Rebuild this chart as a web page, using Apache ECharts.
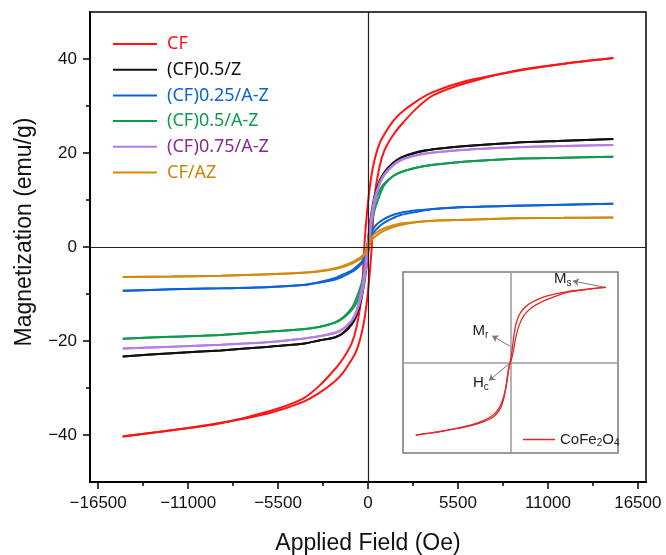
<!DOCTYPE html>
<html><head><meta charset="utf-8">
<script src="https://cdn.jsdelivr.net/npm/echarts@6/dist/echarts.min.js"></script>
<style>html,body{margin:0;padding:0;background:#fff}#c{width:666px;height:555px}</style>
</head><body><div id="c"></div>
<script>
// ---- main chart data (Applied field in Oe, magnetization in emu/g) ----
const fieldDesc = [15000,12000,9000,6000,4000,3000,2000,1500,1000,700,400,200,0,-200,-400,-700,-1000,-1500,-2000,-3000,-4000,-6000,-9000,-12000,-15000];
const fieldAsc  = [-15000,-12000,-9000,-6000,-4000,-3000,-2000,-1500,-1000,-700,-400,-200,0,200,400,700,1000,1500,2000,3000,4000,6000,9000,12000,15000];

const cfDesc  = [40.2,39.0,37.4,35.3,33.0,31.1,28.5,26.6,24.0,22.0,18.5,15.0,9.5,1.5,-10.5,-17.0,-20.5,-23.6,-25.9,-29.6,-32.3,-34.9,-37.5,-39.0,-40.3];
const cfAsc   = [-40.3,-39.0,-37.4,-35.3,-33.0,-31.1,-28.5,-26.6,-24.0,-22.0,-18.5,-15.0,-9.5,-1.5,10.5,17.0,20.5,23.6,25.9,29.6,32.3,34.9,37.5,39.0,40.2];
const zDesc   = [23.0,22.6,22.2,21.5,20.8,20.2,19.0,17.8,15.9,14.0,10.8,7.0,1.5,-5.0,-9.6,-14.0,-16.3,-18.2,-19.2,-19.9,-20.6,-21.2,-22.0,-22.6,-23.3];
const zAsc    = [-23.3,-22.6,-22.0,-21.2,-20.6,-19.9,-19.2,-18.3,-16.5,-14.6,-11.0,-7.0,-1.5,5.0,9.6,13.8,15.6,17.6,18.9,20.1,20.8,21.5,22.2,22.6,23.0];
const b25Desc = [9.2,9.0,8.8,8.5,8.1,7.8,7.3,6.8,6.0,5.3,4.3,3.0,0.8,-1.8,-3.2,-4.2,-5.0,-5.8,-6.6,-7.5,-8.1,-8.5,-8.8,-9.0,-9.3];
const b25Asc  = [-9.3,-9.0,-8.8,-8.5,-8.1,-7.6,-6.9,-6.2,-5.3,-4.6,-3.6,-2.4,-0.6,1.8,3.3,4.4,5.2,6.1,6.8,7.5,8.1,8.5,8.8,9.0,9.2];
const g5Desc  = [19.2,19.0,18.8,18.2,17.5,16.9,15.9,15.0,13.5,12.0,9.3,5.8,1.0,-4.4,-7.8,-10.8,-13.0,-14.9,-16.0,-17.0,-17.5,-18.0,-18.7,-19.1,-19.5];
const g5Asc   = [-19.5,-19.1,-18.7,-18.0,-17.5,-17.0,-16.1,-15.1,-13.4,-11.9,-9.0,-5.6,-1.0,4.4,7.8,10.9,13.2,15.0,15.9,16.9,17.5,18.2,18.8,19.0,19.2];
const p75Desc = [21.7,21.5,21.2,20.7,20.1,19.6,18.6,17.4,15.5,13.6,10.4,6.6,1.2,-4.8,-9.2,-13.4,-15.6,-17.3,-18.2,-19.0,-19.5,-20.2,-20.8,-21.2,-21.6];
const p75Asc  = [-21.6,-21.2,-20.8,-20.2,-19.5,-19.0,-18.3,-17.5,-15.8,-13.9,-10.6,-6.8,-1.2,4.8,9.2,13.2,15.3,17.2,18.4,19.5,20.1,20.7,21.2,21.5,21.7];
const azDesc  = [6.3,6.2,6.1,5.8,5.6,5.3,5.0,4.6,4.0,3.5,2.8,1.9,0.4,-1.2,-2.0,-2.7,-3.3,-4.0,-4.5,-5.1,-5.5,-5.8,-6.1,-6.3,-6.4];
const azAsc   = [-6.4,-6.3,-6.1,-5.8,-5.5,-5.2,-4.7,-4.2,-3.6,-3.0,-2.4,-1.6,-0.3,1.3,2.1,2.9,3.5,4.2,4.7,5.3,5.6,5.8,6.1,6.2,6.3];

const seriesNames = ['CF','(CF)0.5/Z','(CF)0.25/A-Z','(CF)0.5/A-Z','(CF)0.75/A-Z','CF/AZ'];
const xTickLabels = [-16500,-11000,-5500,0,5500,11000,16500];
const xMinorTicks = [-13750,-8250,-2750,2750,8250,13750];
const yTickLabels = [-40,-20,0,20,40];
const yMinorTicks = [-30,-10,10,30];

// ---- inset (schematic CoFe2O4 loop, arbitrary units) ----
const insetHDesc = [88.7,70,52,35,25,17,11,7.5,5,3.2,1.8,0.5,-1,-2.5,-4.5,-7.5,-12,-19,-30,-45,-60,-75,-88.1];
const insetMDesc = [82.9,80.8,78.1,73.8,69.5,64.5,58,51,42,30,17,6,-3,-15,-29,-42,-53,-60.5,-66.5,-71.5,-75,-78,-80.2];
const insetHAsc  = [-88.1,-75,-60,-45,-30,-20,-14,-9.5,-6.5,-4.5,-3,-1.5,1,3,5,8,12.5,19,28,38,52,70,88.7];
const insetMAsc  = [-80.2,-78,-75.2,-72,-67.5,-63,-58,-51,-41,-29,-16,-5,4,15,28,41,52,60,66.5,71.5,77.3,80.6,82.9];

const lineColors = ['#ff1414','#111111','#0e62d6','#0f9a50','#b47ce6','#d38a0c'];
const textColors = ['#ff1414','#111111','#0e62d6','#0f9a50','#8a2b8f','#c8860c'];

const pairs = [[cfDesc,cfAsc],[zDesc,zAsc],[b25Desc,b25Asc],[g5Desc,g5Asc],[p75Desc,p75Asc],[azDesc,azAsc]];
const zip = (xs, ys) => xs.map((x, i) => [x, ys[i]]);
const fmt = v => v < 0 ? '\u2212' + Math.abs(v) : String(v);
const FONT = 'Liberation Sans';

const series = [];
pairs.forEach((p, i) => {
  [zip(fieldDesc, p[0]), zip(fieldAsc, p[1])].forEach((d, j) => {
    const s = {
      name: seriesNames[i], type: 'line', xAxisIndex: 0, yAxisIndex: 0,
      data: d, symbol: 'none', showSymbol: false, smooth: 0.3,
      lineStyle: {color: lineColors[i], width: 2}, itemStyle: {color: lineColors[i]},
      z: 3
    };
    if (i === 0 && j === 0) {
      s.markLine = {silent: true, symbol: ['none','none'], label: {show: false},
        lineStyle: {color: '#222', width: 1.2, type: 'solid'}, animation: false,
        data: [{xAxis: 0}, {yAxis: 0}]};
    }
    series.push(s);
  });
});

const rich = {
  a: {fontSize: 15, fontFamily: FONT, color: '#222', lineHeight: 18},
  s: {fontSize: 10, fontFamily: FONT, color: '#222', lineHeight: 8, verticalAlign: 'bottom'}
};
const arrowStyle = {color: '#777', width: 1, type: 'solid'};

[zip(insetHDesc, insetMDesc), zip(insetHAsc, insetMAsc)].forEach((d, j) => {
  const s = {
    name: 'CoFe2O4', type: 'line', xAxisIndex: 2, yAxisIndex: 2, data: d,
    symbol: 'none', showSymbol: false, smooth: 0.3,
    lineStyle: {color: '#e02828', width: 1.3}, itemStyle: {color: '#e02828'}, z: 10
  };
  if (j === 0) {
    s.markLine = {silent: true, symbol: ['none','arrow'], symbolSize: 6, label: {show: false},
      lineStyle: arrowStyle, animation: false,
      data: [
        [{coord: [88.7, 82.9]}, {coord: [58, 90]}],
        [{coord: [-0.5, 18]}, {coord: [-17, 29.5]}],
        [{coord: [0, 0]}, {coord: [-20, -20]}]
      ]};
    s.markPoint = {silent: true, symbol: 'circle', symbolSize: 1, itemStyle: {color: 'rgba(0,0,0,0)'},
      animation: false,
      label: {show: true, position: 'inside', rich: rich},
      data: [
        {coord: [48.5, 92], label: {formatter: '{a|M}{s|s}'}},
        {coord: [-28, 35], label: {formatter: '{a|M}{s|r}'}},
        {coord: [-27.5, -23], label: {formatter: '{a|H}{s|c}'}}
      ]};
  }
  series.push(s);
});

const chart = echarts.init(document.getElementById('c'), null, {renderer: 'canvas'});
chart.setOption({
  animation: false,
  backgroundColor: '#fff',
  grid: [
    {left: 90, top: 12, width: 556, height: 470, show: true, borderColor: '#000', borderWidth: 1.5,
      backgroundColor: 'rgba(0,0,0,0)', containLabel: false, outerBoundsMode: 'none'},
    {left: 403, top: 272, width: 215, height: 181, show: true, borderColor: '#7a7a7a', borderWidth: 1.5,
      backgroundColor: '#fff', z: 5, containLabel: false, outerBoundsMode: 'none'}
  ],
  legend: [
    {
      orient: 'vertical', left: 108, top: 30, itemWidth: 44, itemHeight: 2, itemGap: 7.7, icon: 'rect',
      data: seriesNames.map((n, i) => ({name: n, textStyle: {color: textColors[i]}})),
      textStyle: {fontFamily: 'Noto Sans', fontSize: 18, lineHeight: 17, padding: [0, 0, 0, 5]},
      selectedMode: false
    },
    {
      orient: 'vertical', left: 518, top: 427, itemWidth: 32, itemHeight: 1.5, icon: 'rect', z: 12,
      data: ['CoFe2O4'], selectedMode: false,
      formatter: () => '{a|CoFe}{s|2}{a|O}{s|4}',
      textStyle: {rich: rich}
    }
  ],
  xAxis: [
    {gridIndex: 0, type: 'value', min: -17000, max: 17000, position: 'bottom',
      axisLine: {show: true, onZero: false, lineStyle: {color: '#000', width: 2}},
      axisTick: {show: true, length: 7, customValues: xTickLabels, lineStyle: {color: '#000', width: 1.5}},
      axisLabel: {customValues: xTickLabels, formatter: fmt, fontSize: 17, fontFamily: FONT, color: '#111', margin: 13},
      splitLine: {show: false},
      name: 'Applied Field (Oe)', nameLocation: 'middle', nameGap: 50,
      nameTextStyle: {fontSize: 23, fontFamily: FONT, color: '#111'}},
    {gridIndex: 0, type: 'value', min: -17000, max: 17000, position: 'bottom',
      axisLine: {show: false, onZero: false},
      axisTick: {show: true, length: 4, customValues: xMinorTicks, lineStyle: {color: '#000', width: 1.5}},
      axisLabel: {show: false}, splitLine: {show: false}},
    {gridIndex: 1, type: 'value', min: -100, max: 100, z: 8,
      axisLine: {show: true, onZero: true, lineStyle: {color: '#9a9a9a', width: 1.5}},
      axisTick: {show: false}, axisLabel: {show: false}, splitLine: {show: false}}
  ],
  yAxis: [
    {gridIndex: 0, type: 'value', min: -50, max: 50, position: 'left',
      axisLine: {show: true, onZero: false, lineStyle: {color: '#000', width: 2}},
      axisTick: {show: true, length: 7, customValues: yTickLabels, lineStyle: {color: '#000', width: 1.5}},
      axisLabel: {customValues: yTickLabels, formatter: fmt, fontSize: 17, fontFamily: FONT, color: '#111', margin: 13},
      splitLine: {show: false},
      name: 'Magnetization (emu/g)', nameLocation: 'middle', nameGap: 54,
      nameTextStyle: {fontSize: 23, fontFamily: FONT, color: '#111', padding: [0, 0, 0, 30]}},
    {gridIndex: 0, type: 'value', min: -50, max: 50, position: 'left',
      axisLine: {show: false, onZero: false},
      axisTick: {show: true, length: 4, customValues: yMinorTicks, lineStyle: {color: '#000', width: 1.5}},
      axisLabel: {show: false}, splitLine: {show: false}},
    {gridIndex: 1, type: 'value', min: -100, max: 100, z: 8,
      axisLine: {show: true, onZero: true, lineStyle: {color: '#9a9a9a', width: 1.5}},
      axisTick: {show: false}, axisLabel: {show: false}, splitLine: {show: false}}
  ],
  series: series
});
</script></body></html>
